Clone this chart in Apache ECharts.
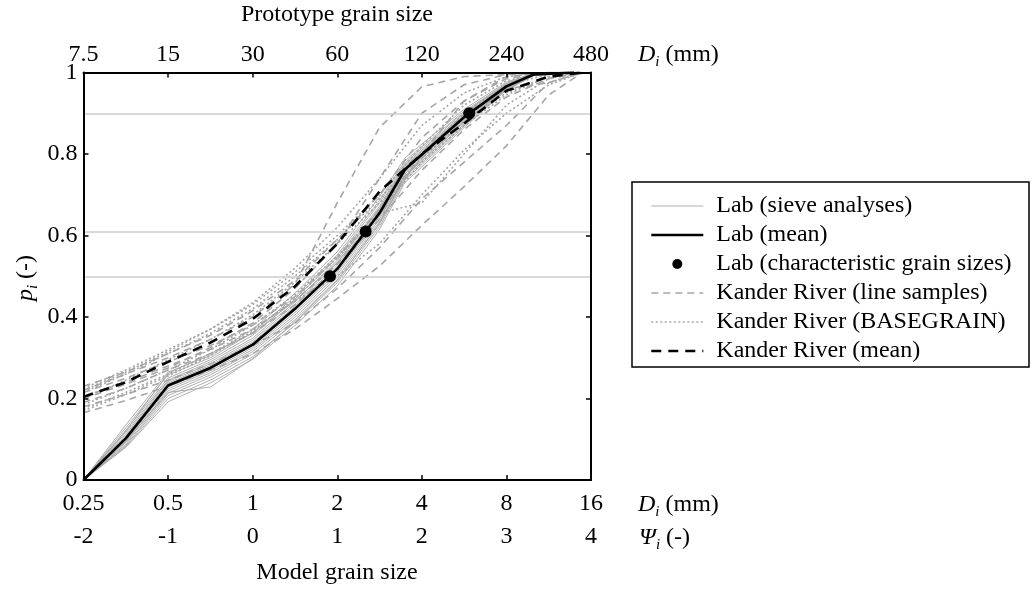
<!DOCTYPE html>
<html>
<head>
<meta charset="utf-8">
<script src="https://cdn.jsdelivr.net/npm/echarts@6/dist/echarts.min.js"></script>
<style>
  html, body { margin: 0; padding: 0; background: #fff; }
  #chart { width: 1033px; height: 589px; }
</style>
</head>
<body>
<div id="chart"></div>
<script>
// Grain size distributions: lab sieve analyses vs. Kander River samples.
// Horizontal position is Psi = log2(D / 1 mm) of the model grain size.

const psiTicks = [-2, -1, 0, 1, 2, 3, 4];
const modelSizeLabels = ['0.25', '0.5', '1', '2', '4', '8', '16'];
const protoSizeLabels = ['7.5', '15', '30', '60', '120', '240', '480'];
const psiLabels = ['-2', '-1', '0', '1', '2', '3', '4'];

// Lab sieve analyses (psi of sieve, fraction finer)
const labPsi = [-2, -1.5, -1, -0.5, 0, 0.5, 1, 1.5, 1.8, 2.5, 3, 3.32, 3.8];
const labSieveP = [
  [0, 0.135, 0.265, 0.305, 0.370, 0.458, 0.560, 0.695, 0.790, 0.910, 0.976, 0.998, 1],
  [0, 0.128, 0.258, 0.300, 0.362, 0.450, 0.552, 0.686, 0.783, 0.905, 0.973, 0.997, 1],
  [0, 0.122, 0.250, 0.295, 0.355, 0.444, 0.546, 0.680, 0.778, 0.902, 0.971, 0.997, 1],
  [0, 0.117, 0.245, 0.290, 0.348, 0.437, 0.539, 0.672, 0.774, 0.898, 0.970, 0.996, 1],
  [0, 0.112, 0.242, 0.285, 0.343, 0.431, 0.533, 0.667, 0.770, 0.895, 0.969, 0.996, 1],
  [0, 0.108, 0.238, 0.281, 0.338, 0.426, 0.527, 0.661, 0.766, 0.893, 0.968, 0.995, 1],
  [0, 0.104, 0.235, 0.278, 0.334, 0.422, 0.522, 0.658, 0.764, 0.891, 0.967, 0.995, 1],
  [0, 0.100, 0.229, 0.272, 0.329, 0.416, 0.515, 0.651, 0.759, 0.887, 0.965, 0.995, 1],
  [0, 0.096, 0.224, 0.268, 0.325, 0.411, 0.510, 0.646, 0.755, 0.884, 0.964, 0.994, 1],
  [0, 0.092, 0.219, 0.263, 0.320, 0.405, 0.504, 0.640, 0.751, 0.881, 0.963, 0.994, 1],
  [0, 0.088, 0.213, 0.258, 0.315, 0.399, 0.497, 0.634, 0.746, 0.877, 0.961, 0.993, 1],
  [0, 0.085, 0.207, 0.252, 0.309, 0.393, 0.491, 0.628, 0.741, 0.873, 0.960, 0.993, 1],
  [0, 0.082, 0.200, 0.245, 0.302, 0.386, 0.484, 0.622, 0.736, 0.869, 0.958, 0.992, 1],
  [0, 0.080, 0.192, 0.238, 0.296, 0.379, 0.476, 0.615, 0.730, 0.865, 0.957, 0.992, 1],
  [0, 0.095, 0.215, 0.228, 0.298, 0.389, 0.489, 0.630, 0.745, 0.879, 0.962, 0.994, 1],
  [0, 0.120, 0.262, 0.310, 0.360, 0.440, 0.534, 0.665, 0.770, 0.894, 0.968, 0.996, 1]
];
const labMeanP = [0, 0.102, 0.232, 0.275, 0.332, 0.420, 0.518, 0.655, 0.762, 0.890, 0.966, 0.995, 1];

// Characteristic grain sizes of the lab mixture
const charPsi = [0.914, 1.336, 2.56];
const charP = [0.50, 0.61, 0.90];

// Kander River samples
const kanderPsi = [-2, -1.5, -1, -0.5, 0, 0.5, 1, 1.5, 2, 2.5, 3, 3.5, 3.9];
const lineSampleP = [
  [0.220, 0.260, 0.300, 0.345, 0.400, 0.480, 0.680, 0.865, 0.965, 0.990, 0.995, 1, 1],
  [0.165, 0.195, 0.230, 0.270, 0.310, 0.370, 0.445, 0.525, 0.625, 0.720, 0.820, 0.945, 1],
  [0.180, 0.210, 0.245, 0.285, 0.330, 0.385, 0.470, 0.570, 0.690, 0.780, 0.870, 0.975, 1],
  [0.215, 0.250, 0.290, 0.330, 0.380, 0.450, 0.545, 0.665, 0.790, 0.900, 0.960, 0.975, 1],
  [0.230, 0.265, 0.310, 0.355, 0.415, 0.490, 0.590, 0.700, 0.840, 0.930, 0.985, 1, 1],
  [0.205, 0.240, 0.280, 0.320, 0.370, 0.440, 0.530, 0.650, 0.800, 0.930, 0.990, 1, 1],
  [0.190, 0.225, 0.270, 0.310, 0.360, 0.430, 0.520, 0.640, 0.760, 0.860, 0.940, 0.985, 1],
  [0.200, 0.235, 0.275, 0.325, 0.385, 0.470, 0.580, 0.740, 0.900, 0.970, 0.995, 1, 1]
];
const basegrainP = [
  [0.225, 0.270, 0.320, 0.370, 0.430, 0.510, 0.600, 0.700, 0.820, 0.920, 0.980, 1, 1],
  [0.215, 0.260, 0.310, 0.360, 0.420, 0.500, 0.590, 0.690, 0.800, 0.900, 0.970, 0.995, 1],
  [0.170, 0.210, 0.255, 0.305, 0.365, 0.445, 0.545, 0.655, 0.680, 0.800, 0.920, 0.985, 1],
  [0.200, 0.245, 0.295, 0.345, 0.405, 0.485, 0.580, 0.680, 0.790, 0.880, 0.950, 0.990, 1],
  [0.185, 0.225, 0.270, 0.320, 0.380, 0.455, 0.550, 0.660, 0.780, 0.870, 0.945, 0.990, 1],
  [0.220, 0.265, 0.315, 0.370, 0.435, 0.520, 0.620, 0.740, 0.870, 0.950, 0.990, 1, 1],
  [0.175, 0.215, 0.260, 0.310, 0.370, 0.440, 0.500, 0.580, 0.700, 0.810, 0.900, 0.970, 1]
];
const kanderMeanP = [0.204, 0.240, 0.290, 0.337, 0.395, 0.475, 0.580, 0.708, 0.800, 0.875, 0.955, 0.990, 1];

const FONT = '"Liberation Serif", "Times New Roman", serif';
const GREY = '#a6a6a6';

const pairs = (xs, ys) => xs.map((x, i) => [x, ys[i]]);
const tickIndex = v => psiTicks.indexOf(Math.round(v));

const lineSeries = (name, xs, ys, lineStyle, z) => ({
  type: 'line', name, data: pairs(xs, ys), symbol: 'none',
  xAxisIndex: 0, yAxisIndex: 0, lineStyle, itemStyle: { color: lineStyle.color },
  z, silent: true, animation: false
});

const series = [];
// reference levels of the characteristic grain sizes
series.push({
  type: 'line', name: 'levels', data: [], z: 1, silent: true, animation: false,
  markLine: {
    silent: true, symbol: 'none', label: { show: false },
    lineStyle: { color: '#cccccc', width: 1.5, type: 'solid' },
    data: charP.map(p => ({ yAxis: p }))
  }
});
labSieveP.forEach(p => series.push(lineSeries('Lab (sieve analyses)', labPsi, p,
  { color: GREY, width: 0.9 }, 2)));
lineSampleP.forEach(p => series.push(lineSeries('Kander River (line samples)', kanderPsi, p,
  { color: GREY, width: 1.6, type: [7, 5] }, 3)));
basegrainP.forEach(p => series.push(lineSeries('Kander River (BASEGRAIN)', kanderPsi, p,
  { color: GREY, width: 1.6, type: [2, 2.5] }, 3)));
series.push(lineSeries('Kander River (mean)', kanderPsi, kanderMeanP,
  { color: '#000', width: 2.6, type: [10, 7] }, 4));
series.push(lineSeries('Lab (mean)', labPsi, labMeanP,
  { color: '#000', width: 2.6 }, 5));
series.push({
  type: 'scatter', name: 'Lab (characteristic grain sizes)', data: pairs(charPsi, charP),
  symbol: 'circle', symbolSize: 12, itemStyle: { color: '#000', opacity: 1 }, z: 6,
  silent: true, animation: false
});

const axisLine = { show: true, onZero: false, lineStyle: { color: '#000', width: 2 } };
const axisTick = { show: true, inside: true, length: 5, lineStyle: { color: '#000', width: 1.5 } };
const labelText = { fontFamily: FONT, fontSize: 24, color: '#000' };

const xCommon = { type: 'value', min: -2, max: 4, interval: 1, splitLine: { show: false }, z: 10 };

const rich = {
  it: { fontFamily: FONT, fontSize: 24, fontStyle: 'italic', fill: '#000', lineHeight: 30 },
  sub: { fontFamily: FONT, fontSize: 15, fontStyle: 'italic', fill: '#000', lineHeight: 15, verticalAlign: 'bottom' },
  n: { fontFamily: FONT, fontSize: 24, fill: '#000', lineHeight: 30 }
};
const richText = (x, y, main, rest, align, rotation) => ({
  type: 'text', x, y, silent: true, rotation: rotation || 0,
  style: { text: '{it|' + main + '}{sub|i}{n|' + rest + '}', rich, align, verticalAlign: 'middle' }
});
const plainText = (x, y, text) => ({
  type: 'text', x, y, silent: true,
  style: { text, fontFamily: FONT, fontSize: 24, fill: '#000', align: 'center', verticalAlign: 'middle' }
});

const lineIcon = name => ({ name, itemStyle: { opacity: 0 } });

const option = {
  backgroundColor: '#fff',
  animation: false,
  grid: { left: 83.5, right: 442, top: 72.5, bottom: 109, containLabel: false, outerBoundsMode: 'none' },
  xAxis: [
    Object.assign({}, xCommon, {
      position: 'bottom', axisLine, axisTick,
      axisLabel: Object.assign({ margin: 12, showMinLabel: true, showMaxLabel: true, hideOverlap: false,
        formatter: v => modelSizeLabels[tickIndex(v)] }, labelText)
    }),
    Object.assign({}, xCommon, {
      position: 'top', axisLine, axisTick,
      axisLabel: Object.assign({ margin: 6, showMinLabel: true, showMaxLabel: true, hideOverlap: false,
        formatter: v => protoSizeLabels[tickIndex(v)] }, labelText)
    }),
    Object.assign({}, xCommon, {
      position: 'bottom', offset: 33, axisLine: { show: false, onZero: false }, axisTick: { show: false },
      axisLabel: Object.assign({ margin: 12, showMinLabel: true, showMaxLabel: true, hideOverlap: false,
        formatter: v => psiLabels[tickIndex(v)] }, labelText)
    })
  ],
  yAxis: [
    {
      type: 'value', min: 0, max: 1, interval: 0.2, position: 'left', z: 10,
      axisLine, axisTick, splitLine: { show: false },
      axisLabel: Object.assign({ margin: 6, showMinLabel: true, showMaxLabel: true, hideOverlap: false }, labelText)
    },
    {
      type: 'value', min: 0, max: 1, interval: 0.2, position: 'right', z: 10,
      axisLine, axisTick, splitLine: { show: false }, axisLabel: { show: false }
    }
  ],
  legend: {
    orient: 'vertical', left: 650, top: 194, padding: 0,
    itemWidth: 52, itemHeight: 10, itemGap: 5,
    selectedMode: false,
    lineStyle: { width: 'inherit' },
    textStyle: { fontFamily: FONT, fontSize: 24, color: '#000', padding: [0, 0, 0, 8] },
    data: [
      lineIcon('Lab (sieve analyses)'),
      lineIcon('Lab (mean)'),
      { name: 'Lab (characteristic grain sizes)', itemStyle: { color: '#000', opacity: 1 } },
      lineIcon('Kander River (line samples)'),
      lineIcon('Kander River (BASEGRAIN)'),
      lineIcon('Kander River (mean)')
    ]
  },
  graphic: [
    plainText(337, 15, 'Prototype grain size'),
    plainText(337, 573, 'Model grain size'),
    richText(638, 55, 'D', ' (mm)', 'left'),
    richText(638, 505, 'D', ' (mm)', 'left'),
    richText(639, 538, '\u03A8', ' (-)', 'left'),
    richText(26, 278, 'p', ' (-)', 'center', Math.PI / 2),
    {
      type: 'rect', silent: true, z: 0,
      shape: { x: 632, y: 182, width: 397, height: 185 },
      style: { fill: 'none', stroke: '#000', lineWidth: 1.5 }
    }
  ],
  series
};

const chart = echarts.init(document.getElementById('chart'), null, { renderer: 'canvas' });
chart.setOption(option);
</script>
</body>
</html>
